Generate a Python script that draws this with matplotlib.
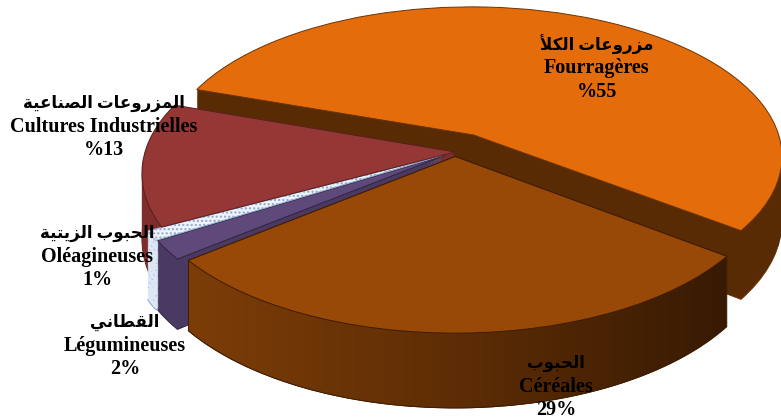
import numpy as np
import matplotlib
matplotlib.use("Agg")
import matplotlib.pyplot as plt
from matplotlib.transforms import Transform
from matplotlib.patches import PathPatch
from matplotlib.path import Path
from matplotlib.colors import LinearSegmentedColormap

# ---------------- data ----------------
categories_fr = ["Fourragères", "Céréales", "Légumineuses", "Oléagineuses", "Cultures Industrielles"]
categories_ar = ["مزروعات الكلأ", "الحبوب", "القطاني", "الحبوب الزيتية", "المزروعات الصناعية"]
values = [55, 29, 2, 1, 13]
pct_labels = ["%55", "29%", "2%", "1%", "%13"]

# ---------------- style ----------------
top_colors = ["#E46C0A", "#984807", "#5F497A", "#EEF3FA", "#953735"]
side_colors = ["#582B04", "#5E2D05", "#4A3962", "#DCE6F4", "#7E2D2C"]
edge_colors = ["#6B3406", "#3E1D02", "#2F2440", "#8FA6CC", "#5A1F1E"]
explode = [0.13, 0.03, 0.04, 0.045, 0.0]
START = 161
OLE = 3

# Arabic shaping (presentation forms, visual order)
FORMS = {
    'ا': ('\uFE8D', '\uFE8E', None, None),
    'أ': ('\uFE83', '\uFE84', None, None),
    'ب': ('\uFE8F', '\uFE90', '\uFE91', '\uFE92'),
    'ة': ('\uFE93', '\uFE94', None, None),
    'ت': ('\uFE95', '\uFE96', '\uFE97', '\uFE98'),
    'ح': ('\uFEA1', '\uFEA2', '\uFEA3', '\uFEA4'),
    'ر': ('\uFEAD', '\uFEAE', None, None),
    'ز': ('\uFEAF', '\uFEB0', None, None),
    'ص': ('\uFEB9', '\uFEBA', '\uFEBB', '\uFEBC'),
    'ط': ('\uFEC1', '\uFEC2', '\uFEC3', '\uFEC4'),
    'ع': ('\uFEC9', '\uFECA', '\uFECB', '\uFECC'),
    'ق': ('\uFED5', '\uFED6', '\uFED7', '\uFED8'),
    'ك': ('\uFED9', '\uFEDA', '\uFEDB', '\uFEDC'),
    'ل': ('\uFEDD', '\uFEDE', '\uFEDF', '\uFEE0'),
    'م': ('\uFEE1', '\uFEE2', '\uFEE3', '\uFEE4'),
    'ن': ('\uFEE5', '\uFEE6', '\uFEE7', '\uFEE8'),
    'و': ('\uFEED', '\uFEEE', None, None),
    'ي': ('\uFEF1', '\uFEF2', '\uFEF3', '\uFEF4'),
}
LAM_ALEF = {'ا': ('\uFEFB', '\uFEFC'), 'أ': ('\uFEF7', '\uFEF8')}


def shape(s):
    def dual(c):
        return c in FORMS and FORMS[c][2] is not None
    out = []
    i, n = 0, len(s)
    while i < n:
        c = s[i]
        if c not in FORMS:
            out.append(c)
            i += 1
            continue
        prev = s[i - 1] if i > 0 else ''
        jp = dual(prev)
        if c == 'ل' and i + 1 < n and s[i + 1] in LAM_ALEF:
            out.append(LAM_ALEF[s[i + 1]][1 if jp else 0])
            i += 2
            continue
        nxt = s[i + 1] if i + 1 < n else ''
        jn = dual(c) and nxt in FORMS
        f = FORMS[c]
        out.append(f[3] if (jp and jn) else f[1] if jp else f[2] if jn else f[0])
        i += 1
    return ''.join(reversed(out))


# perspective projection of the pie plane (u, v) at a given depth (pixels)
CX, CY, RX, RY, P, H = 455.0, 152.0, 310.0, 150.5, 0.14, 64.0


class Persp(Transform):
    input_dims = 2
    output_dims = 2
    has_inverse = False

    def __init__(self, dz):
        super().__init__()
        self.dz = dz

    def transform_non_affine(self, values):
        xy = np.asarray(values, dtype=float)
        u, v = xy[:, 0], xy[:, 1]
        s = 1.0 / (1.0 + P * v)
        X = CX + RX * u * s
        Y = CY + s * (-RY * v + self.dz)
        return np.column_stack([X, Y])


def path_points(path):
    pts = []
    t = np.linspace(0, 1, 25)
    for bez, code in path.iter_bezier():
        pts.append(np.atleast_2d(bez(t)))
    return np.vstack(pts)


def hull(pts):
    pts = sorted(set(map(tuple, np.round(pts, 3))))
    def cross(o, a, b):
        return (a[0] - o[0]) * (b[1] - o[1]) - (a[1] - o[1]) * (b[0] - o[0])
    lower, upper = [], []
    for p in pts:
        while len(lower) >= 2 and cross(lower[-2], lower[-1], p) <= 0:
            lower.pop()
        lower.append(p)
    for p in reversed(pts):
        while len(upper) >= 2 and cross(upper[-2], upper[-1], p) <= 0:
            upper.pop()
        upper.append(p)
    return np.array(lower[:-1] + upper[:-1])


fig = plt.figure(figsize=(7.81, 4.19), dpi=100)
ax = fig.add_axes([0, 0, 1, 1])

depths = np.arange(H, -0.5, -1.0)
layer_wedges = {}
for k, d in enumerate(depths):
    is_top = d == 0
    is_bottom = k == 0
    wedges, _ = ax.pie(values, explode=explode, startangle=START, counterclock=False,
                       colors=top_colors if is_top else side_colors, radius=1.0,
                       wedgeprops=dict(linewidth=0))
    for j, (w, ec) in enumerate(zip(wedges, edge_colors)):
        w.set_transform(Persp(d) + ax.transData)
        w.set_zorder(3 if is_top else 1)
        if is_top or is_bottom:
            w.set_edgecolor(ec)
            w.set_linewidth(0.7)
        elif j == OLE:
            w.set_edgecolor('#9DB5DE')
            w.set_linewidth(0)
        else:
            w.set_edgecolor('none')
        if j == OLE and (is_top or k % 6 == 0):
            w.set_hatch('....')
    if is_top:
        layer_wedges['top'] = wedges
    if is_bottom:
        layer_wedges['bottom'] = wedges

# shaded side of the Céréales slice (horizontal light gradient)
ci = 1
ptop = Persp(0).transform_non_affine(path_points(layer_wedges['top'][ci].get_path()))
pbot = Persp(H).transform_non_affine(path_points(layer_wedges['bottom'][ci].get_path()))
hp = hull(np.vstack([ptop, pbot]))
hull_path = Path(np.vstack([hp, hp[:1]]), closed=True)
clip = PathPatch(hull_path, transform=ax.transData)
x0, x1 = hp[:, 0].min(), hp[:, 0].max()
y0, y1 = hp[:, 1].min(), hp[:, 1].max()
cmap = LinearSegmentedColormap.from_list('side', ['#7C3D08', '#5E2D05', '#371A03'])
grad = np.linspace(0, 1, 256)[None, :]
im = ax.imshow(grad, cmap=cmap, extent=(x0, x1, y1, y0), aspect='auto', zorder=2,
               interpolation='bilinear')
im.set_clip_path(clip)
ax.add_patch(PathPatch(hull_path, transform=ax.transData, facecolor='none',
                       edgecolor=edge_colors[ci], linewidth=0.7, zorder=2.5))

ax.set_aspect('auto')
ax.set_xlim(0, 781)
ax.set_ylim(419, 0)
ax.axis('off')

FAM = ['Liberation Serif', 'DejaVu Sans']
label_pos = [(597, 45), (556, 363), (125, 322), (97, 233), (104, 103)]
LS = 23.5
for (x, y), ar, fr, pc in zip(label_pos, categories_ar, categories_fr, pct_labels):
    ax.text(x, y, shape(ar), ha='center', va='center', fontsize=12, fontweight='bold', family=FAM, zorder=5)
    ax.text(x, y + LS, fr, ha='center', va='center', fontsize=14.5, fontweight='bold', family=FAM, zorder=5)
    ax.text(x, y + 2 * LS, pc, ha='center', va='center', fontsize=14.5, fontweight='bold', family=FAM, zorder=5)

fig.savefig("out.png", dpi=100)
